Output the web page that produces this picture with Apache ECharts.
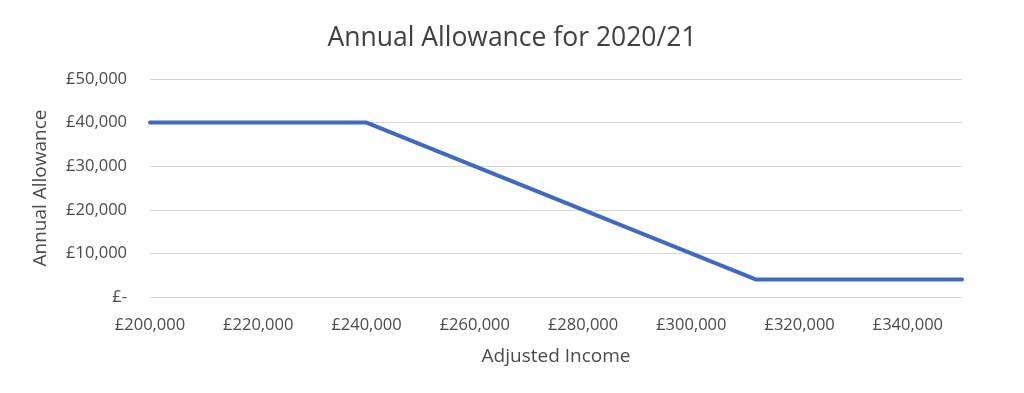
<!DOCTYPE html>
<html><head><meta charset="utf-8">
<script src="https://cdn.jsdelivr.net/npm/echarts@6/dist/echarts.min.js"></script>
<style>html,body{margin:0;padding:0;background:#fff}#c{width:1024px;height:393px}</style>
</head><body><div id="c"></div>
<script>
var incomes = [200000, 240000, 312000, 350000];
var allowances = [40000, 40000, 4000, 4000];
var title = 'Annual Allowance for 2020/21';
var xName = 'Adjusted Income';
var yName = 'Annual Allowance';

function gbp(v){ return v === 0 ? '£-' : '£' + v.toLocaleString('en-GB'); }

var chart = echarts.init(document.getElementById('c'), null, {renderer:'canvas'});
chart.setOption({
  animation:false,
  backgroundColor:'#ffffff',
  title:{text:title,left:'center',top:20,textStyle:{fontFamily:'Open Sans',fontSize:26.5,fontWeight:'normal',color:'#404040'}},
  grid:{left:150,right:62,top:79,bottom:96,containLabel:false},
  xAxis:{type:'value',min:200000,max:350000,interval:20000,
    name:xName,nameLocation:'middle',nameGap:50,
    nameTextStyle:{fontFamily:'Open Sans',fontSize:19,color:'#4a4a4a'},
    axisLine:{show:false},axisTick:{show:false},splitLine:{show:false},
    axisLabel:{formatter:gbp,showMaxLabel:false,margin:20,fontFamily:'Open Sans',fontSize:16.5,color:'#4a4a4a'}},
  yAxis:{type:'value',min:0,max:50000,interval:10000,
    name:yName,nameLocation:'middle',nameGap:100,
    nameTextStyle:{fontFamily:'Open Sans',fontSize:19,color:'#4a4a4a'},
    axisLine:{show:false},axisTick:{show:false},
    splitLine:{lineStyle:{color:'#d9d9d9',width:1}},
    axisLabel:{formatter:gbp,margin:23,fontFamily:'Open Sans',fontSize:16.5,color:'#4a4a4a'}},
  series:[{type:'line',data:incomes.map(function(x,i){return [x,allowances[i]];}),
    showSymbol:false,lineStyle:{color:'#4169BF',width:4,cap:'round',join:'round'}}]
});
</script></body></html>
